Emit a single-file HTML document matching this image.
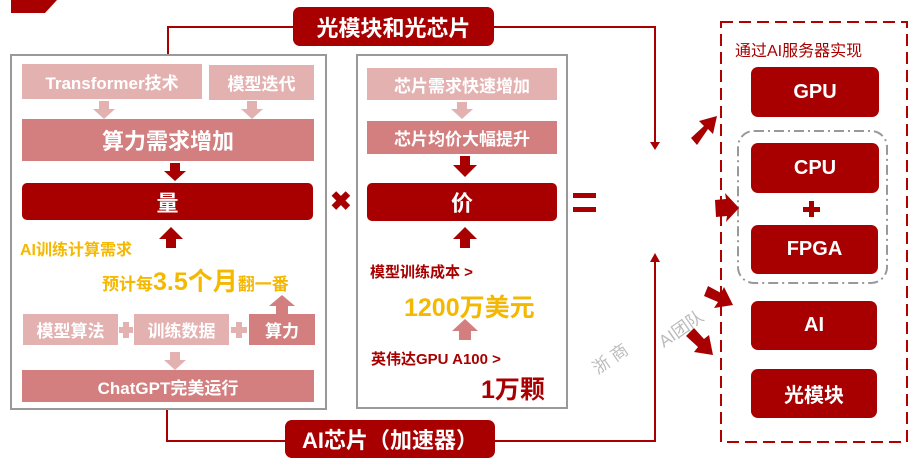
<!DOCTYPE html>
<html><head><meta charset="utf-8"><style>
body{margin:0;width:916px;height:460px;background:#fff;position:relative;overflow:hidden;font-family:"Liberation Sans","Noto Sans CJK SC",sans-serif;font-weight:bold}
.a{position:absolute;box-sizing:border-box;display:flex;align-items:center;justify-content:center;color:#fff}
.lp{background:#e4b1b1}
.mp{background:#d47f7f}
.dr{background:#a80000;border-radius:7px}
.t{position:absolute;white-space:nowrap}
</style></head><body>
<svg width="916" height="460" style="position:absolute;left:0;top:0">
<path d="M11,0 H57 L45,13 H11z" fill="#a80000"/>
<polyline points="168,55 168,27 300,27" fill="none" stroke="#a80000" stroke-width="2"/>
<polyline points="490,27 655,27 655,146" fill="none" stroke="#a80000" stroke-width="2"/>
<path d="M650,142 L660,142 L655,150z" fill="#a80000"/>
<polyline points="167,409 167,441 290,441" fill="none" stroke="#a80000" stroke-width="2"/>
<polyline points="490,441 655,441 655,258" fill="none" stroke="#a80000" stroke-width="2"/>
<path d="M650,262 L660,262 L655,253z" fill="#a80000"/>
<rect x="11" y="55" width="315" height="354" fill="none" stroke="#999" stroke-width="2"/>
<rect x="357" y="55" width="210" height="353" fill="none" stroke="#999" stroke-width="2"/>
<rect x="721" y="22" width="186" height="420" fill="none" stroke="#b00000" stroke-width="2" stroke-dasharray="12,6"/>
<rect x="738" y="131" width="149" height="152" rx="16" fill="none" stroke="#999" stroke-width="2" stroke-dasharray="10,4,2,4"/>
<g fill="#e4b1b1"><path d="M99,101h10v8h6l-11,10l-11,-10h6z"/><path d="M247,101h10v8h6l-11,10l-11,-10h6z"/><path d="M457,102h10v7h6l-11,10l-11,-10h6z"/><path d="M170,352h10v8h6l-11,10l-11,-10h6z"/></g>
<g fill="#a80000"><path d="M170,163h10v8h6l-11,10l-11,-10h6z"/><path d="M460,156h10v9h7l-12,12l-12,-12h7z"/><path d="M166,248h10v-9h7l-12,-12l-12,12h7z"/><path d="M460,248h10v-9h7l-12,-12l-12,12h7z"/></g>
<g fill="#d47f7f"><path d="M276,314h12v-8h7l-13,-11l-13,11h7z"/><path d="M459,340h12v-9h7l-13,-12l-13,12h7z"/></g>
<g fill="#e4b1b1"><rect x="119" y="327" width="14" height="6"/><rect x="123" y="322" width="6" height="16"/><rect x="231" y="327" width="16" height="6"/><rect x="236" y="322" width="6" height="16"/></g>
<g fill="#a80000">
<path d="M691,138 L704,126 L699,121 L717,116 L713,134 L708,129 L697,145z"/>
<path d="M715,200 L726,199 L725,193 L739,208 L726,222 L727,216 L716,217z"/>
<path d="M708,286 L721,293 L724,287 L733,305 L714,308 L718,302 L704,296z"/>
<path d="M694,328 L704,339 L709,335 L713,355 L694,352 L698,347 L686,336z"/>
</g>
<rect x="809" y="201" width="5" height="16" fill="#a80000"/><rect x="803" y="207" width="17" height="5" fill="#a80000"/>
</svg>
<div class="a dr" style="left:293px;top:7px;width:201px;height:39px;font-size:22px">光模块和光芯片</div>
<div class="a dr" style="left:285px;top:420px;width:210px;height:38px;font-size:22px">AI芯片（加速器）</div>
<div class="a lp" style="left:22px;top:64px;width:180px;height:35px;font-size:17px">Transformer技术</div>
<div class="a lp" style="left:209px;top:65px;width:105px;height:35px;font-size:17px">模型迭代</div>
<div class="a mp" style="left:22px;top:119px;width:292px;height:42px;font-size:22px">算力需求增加</div>
<div class="a dr" style="left:22px;top:183px;width:291px;height:37px;font-size:22px;border-radius:5px">量</div>
<div class="t" style="left:20px;top:236px;font-size:16px;color:#f5b800">AI训练计算需求</div>
<div class="t" style="left:102px;top:262px;font-size:17px;color:#f5b800">预计每<span style="font-size:25px">3.5个月</span>翻一番</div>
<div class="a lp" style="left:23px;top:314px;width:95px;height:31px;font-size:17px">模型算法</div>
<div class="a lp" style="left:134px;top:314px;width:95px;height:31px;font-size:17px">训练数据</div>
<div class="a mp" style="left:249px;top:314px;width:66px;height:31px;font-size:17px">算力</div>
<div class="a mp" style="left:22px;top:370px;width:292px;height:32px;font-size:17px">ChatGPT完美运行</div>
<div class="t" style="left:330px;top:186px;font-size:26px;color:#a80000">✖</div>
<div class="a lp" style="left:367px;top:68px;width:190px;height:32px;font-size:17px">芯片需求快速增加</div>
<div class="a mp" style="left:367px;top:121px;width:190px;height:33px;font-size:17px">芯片均价大幅提升</div>
<div class="a dr" style="left:367px;top:183px;width:190px;height:38px;font-size:22px;border-radius:5px">价</div>
<div style="position:absolute;left:573px;top:193px;width:23px;height:5px;background:#a80000"></div>
<div style="position:absolute;left:573px;top:207px;width:23px;height:5px;background:#a80000"></div>
<div class="t" style="left:370px;top:261px;font-size:15px;color:#a80000">模型训练成本 &gt;</div>
<div class="t" style="left:404px;top:288px;font-size:25px;color:#f5b800">1200万美元</div>
<div class="t" style="left:371px;top:348px;font-size:15px;color:#a80000">英伟达GPU A100 &gt;</div>
<div class="t" style="left:481px;top:370px;font-size:25px;color:#a80000">1万颗</div>
<div class="t" style="left:735px;top:37px;font-size:16px;font-weight:normal;color:#a80000">通过AI服务器实现</div>
<div class="a dr" style="left:751px;top:67px;width:128px;height:50px;font-size:20px">GPU</div>
<div class="a dr" style="left:751px;top:143px;width:128px;height:50px;font-size:20px">CPU</div>
<div class="a dr" style="left:751px;top:225px;width:127px;height:49px;font-size:20px">FPGA</div>
<div class="a dr" style="left:751px;top:301px;width:126px;height:49px;font-size:20px">AI</div>
<div class="a dr" style="left:751px;top:369px;width:126px;height:49px;font-size:20px">光模块</div>
<div class="t" style="left:590px;top:345px;font-size:17px;font-weight:normal;color:#bbb;transform:rotate(-35deg)">浙 商</div>
<div class="t" style="left:655px;top:315px;font-size:17px;font-weight:normal;color:#bbb;transform:rotate(-35deg)">AI团队</div>
</body></html>
